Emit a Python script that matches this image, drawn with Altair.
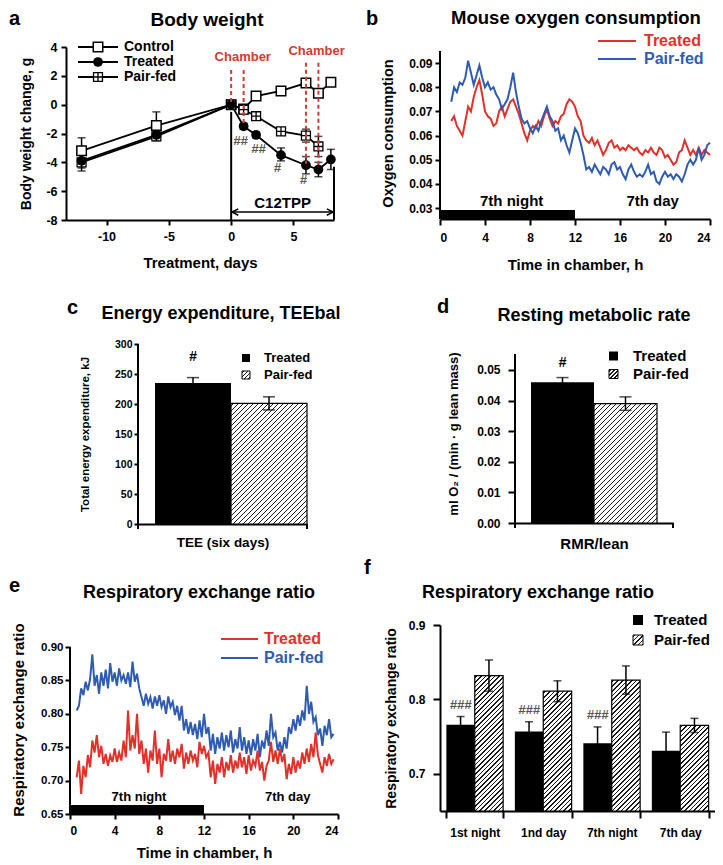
import altair as alt
import pandas as pd

FONT = "Liberation Sans"
RED = "#e0312a"
BLUE = "#2f5cb2"
CH_RED = "#d23b30"
GREY = "#555555"
MINUS_FIX = "replace(datum.label, '\u2212', '-')"

# ---------------- panel a : body weight ----------------
a_days = [-12, -6, 0, 1, 2, 4, 6, 7, 8]
a_control = [-3.2, -1.45, 0.0, -0.3, 0.6, 0.95, 1.5, 0.8, 1.55]
a_control_lo = [-3.2, -1.45, 0.0, -0.3, 0.6, 0.95, 1.5, 0.8, 1.55]
a_control_hi = [-2.3, -0.5, 0.0, -0.3, 0.6, 0.95, 1.5, 0.8, 1.55]
a_treated = [-3.9, -2.1, 0.0, -1.5, -2.1, -3.5, -4.2, -4.5, -3.8]
a_treated_lo = [-4.4, -2.4, 0.0, -1.7, -2.3, -3.9, -4.8, -5.0, -4.5]
a_treated_hi = [-3.9, -2.1, 0.0, -1.3, -1.9, -3.0, -3.6, -4.0, -3.1]
a_pf_days = [-12, -6, 0, 1, 2, 4, 6, 7]
a_pairfed = [-4.0, -2.2, 0.0, -0.35, -0.8, -1.85, -2.15, -2.9]
a_pairfed_lo = [-4.6, -2.5, 0.0, -0.5, -1.0, -2.1, -2.6, -3.6]
a_pairfed_hi = [-4.0, -2.2, 0.0, -0.2, -0.6, -1.6, -1.7, -2.2]
a_sig_days = [0.75, 2.2, 3.7, 5.8]
a_sig_vals = [-2.5, -3.1, -4.4, -5.2]
a_sig_text = ["##", "##", "#", "#"]
a_chamber_days = [0, 1, 6, 7]
a_chamber_top = [2.4, 2.4, 2.9, 2.9]
a_chamber_bottom = [0.0, -1.4, -4.1, -4.4]
a_chamber_label_days = [0.93, 6.85]
a_chamber_label_vals = [3.3, 3.7]
a_tpp_start, a_tpp_end = 0.0, 8.25
a_tpp_tops = [-0.5, -4.3]

# ---------------- panel b : oxygen consumption ----------------
b_start, b_step = 1.0, 0.25
b_treated = [0.066, 0.068, 0.064, 0.062, 0.060, 0.066, 0.072, 0.070, 0.076, 0.080,
             0.083, 0.077, 0.070, 0.068, 0.067, 0.064, 0.065, 0.070, 0.072, 0.068,
             0.071, 0.074, 0.075, 0.072, 0.069, 0.065, 0.061, 0.058, 0.062, 0.064,
             0.063, 0.066, 0.064, 0.068, 0.071, 0.067, 0.064, 0.066, 0.065, 0.068,
             0.069, 0.073, 0.075, 0.074, 0.072, 0.068, 0.066, 0.060, 0.058, 0.057,
             0.059, 0.056, 0.058, 0.055, 0.052, 0.054, 0.057, 0.058, 0.055, 0.056,
             0.054, 0.055, 0.054, 0.056, 0.055, 0.054, 0.055, 0.053, 0.052, 0.054,
             0.053, 0.055, 0.053, 0.052, 0.055, 0.054, 0.051, 0.052, 0.050, 0.048,
             0.049, 0.053, 0.054, 0.058, 0.055, 0.052, 0.054, 0.052, 0.055, 0.052,
             0.054, 0.053, 0.052]
b_pairfed = [0.074, 0.080, 0.078, 0.082, 0.081, 0.084, 0.091, 0.086, 0.081, 0.085,
             0.089, 0.084, 0.080, 0.082, 0.079, 0.080, 0.077, 0.075, 0.071, 0.073,
             0.075, 0.080, 0.086, 0.078, 0.072, 0.067, 0.065, 0.066, 0.063, 0.061,
             0.064, 0.062, 0.066, 0.069, 0.072, 0.068, 0.066, 0.062, 0.063, 0.058,
             0.060, 0.056, 0.053, 0.058, 0.063, 0.061, 0.057, 0.052, 0.046, 0.047,
             0.045, 0.048, 0.046, 0.044, 0.047, 0.046, 0.044, 0.048, 0.049, 0.046,
             0.047, 0.044, 0.042, 0.046, 0.048, 0.045, 0.043, 0.044, 0.043, 0.045,
             0.048, 0.044, 0.045, 0.041, 0.040, 0.043, 0.045, 0.043, 0.044, 0.042,
             0.044, 0.043, 0.041, 0.044, 0.048, 0.050, 0.048, 0.050, 0.055, 0.050,
             0.052, 0.056, 0.057]
night_start, night_end = 0, 12
b_label_x = [6.37, 18.9]
labels_daynight = ["7th night", "7th day"]

# ---------------- panel c / d : bars ----------------
groups = ["Treated", "Pair-fed"]
c_vals = [235, 201]
c_err = [9, 11]
d_vals = [0.046, 0.039]
d_err = [0.0015, 0.0022]

# ---------------- panel e : RER trace ----------------
e_start, e_step = 0.6, 0.2
e_pairfed = [0.805, 0.812, 0.838, 0.828, 0.848, 0.835, 0.852, 0.889, 0.842, 0.858,
             0.830, 0.862, 0.842, 0.866, 0.838, 0.876, 0.848, 0.862, 0.842, 0.868,
             0.850, 0.858, 0.845, 0.862, 0.840, 0.878, 0.848, 0.860, 0.838, 0.825,
             0.812, 0.830, 0.815, 0.825, 0.808, 0.826, 0.812, 0.828, 0.810, 0.820,
             0.800, 0.826, 0.810, 0.818, 0.798, 0.812, 0.790, 0.812, 0.775, 0.792,
             0.770, 0.788, 0.768, 0.785, 0.762, 0.790, 0.765, 0.800, 0.770, 0.780,
             0.745, 0.770, 0.740, 0.765, 0.748, 0.772, 0.745, 0.768, 0.750, 0.775,
             0.742, 0.762, 0.748, 0.780, 0.745, 0.765, 0.740, 0.760, 0.738, 0.762,
             0.745, 0.770, 0.735, 0.760, 0.748, 0.775, 0.752, 0.800, 0.765, 0.772,
             0.745, 0.758, 0.742, 0.765, 0.748, 0.780, 0.770, 0.792, 0.775, 0.798,
             0.782, 0.805, 0.790, 0.842, 0.800, 0.818, 0.788, 0.795, 0.768, 0.778,
             0.752, 0.782, 0.768, 0.792, 0.765, 0.770]
e_treated = [0.705, 0.730, 0.680, 0.722, 0.705, 0.738, 0.720, 0.760, 0.742, 0.768,
             0.735, 0.752, 0.725, 0.740, 0.722, 0.738, 0.728, 0.748, 0.728, 0.742,
             0.730, 0.760, 0.735, 0.805, 0.745, 0.768, 0.748, 0.800, 0.740, 0.760,
             0.725, 0.748, 0.712, 0.745, 0.730, 0.775, 0.725, 0.748, 0.705, 0.740,
             0.730, 0.762, 0.728, 0.745, 0.725, 0.748, 0.735, 0.755, 0.718, 0.742,
             0.725, 0.745, 0.730, 0.740, 0.720, 0.758, 0.740, 0.752, 0.735, 0.742,
             0.705, 0.730, 0.695, 0.725, 0.712, 0.735, 0.705, 0.728, 0.715, 0.738,
             0.712, 0.730, 0.718, 0.742, 0.720, 0.735, 0.710, 0.738, 0.715, 0.730,
             0.722, 0.745, 0.715, 0.728, 0.700, 0.722, 0.730, 0.758, 0.728, 0.745,
             0.725, 0.748, 0.728, 0.740, 0.702, 0.725, 0.710, 0.735, 0.712, 0.730,
             0.718, 0.742, 0.725, 0.748, 0.728, 0.755, 0.735, 0.772, 0.738, 0.725,
             0.712, 0.735, 0.722, 0.740, 0.725, 0.732]
e_label_x = [6.18, 19.5]

# ---------------- panel f : RER bars ----------------
f_periods = ["1st night", "1nd day", "7th night", "7th day"]
f_treated = [0.766, 0.757, 0.741, 0.731]
f_treated_err = [0.011, 0.013, 0.022, 0.025]
f_pairfed = [0.832, 0.811, 0.826, 0.765]
f_pairfed_err = [0.021, 0.014, 0.019, 0.0095]
f_sig = ["###", "###", "###", ""]


# ---------------- helpers ----------------
def one():
    return pd.DataFrame({"s": [0]})


def txt(text, x, y, size, color="black", align="center", baseline="middle", italic=False):
    return alt.Chart(pd.DataFrame({"t": [text]})).mark_text(
        font=FONT, fontSize=size, fontWeight="bold", color=color, align=align,
        baseline=baseline, fontStyle="italic" if italic else "normal"
    ).encode(x=alt.value(x), y=alt.value(y), text="t:N")


def spacer(w, h):
    return alt.Chart(one()).mark_point(opacity=0, size=1).encode(
        x=alt.value(0), y=alt.value(0)).properties(width=w, height=h)


def rect_px(x, y, w, h, fill, stroke=None):
    kw = dict(fill=fill)
    if stroke:
        kw.update(stroke=stroke, strokeWidth=1)
    return alt.Chart(one()).mark_rect(**kw).encode(
        x=alt.value(x), x2=alt.value(x + w), y=alt.value(y), y2=alt.value(y + h))


def rule_px(x, x2, y, y2, color="black", width=2):
    return alt.Chart(one()).mark_rule(color=color, strokeWidth=width).encode(
        x=alt.value(x), x2=alt.value(x2), y=alt.value(y), y2=alt.value(y2))


def hatch(w, h, period=5.0, lw=1.6, color="#1a1a1a"):
    """diagonal '/' stripes, period given horizontally in pixels"""
    total = w + h
    L = (w * w + h * h) / total
    stops = [alt.GradientStop(offset=0, color="white")]
    pos = period / 2.0
    while pos - lw / 2 < total:
        a = round(max(0.0, (pos - lw / 2) / total), 5)
        b = round(min(1.0, (pos + lw / 2) / total), 5)
        stops += [alt.GradientStop(offset=a, color="white"),
                  alt.GradientStop(offset=a, color=color),
                  alt.GradientStop(offset=b, color=color),
                  alt.GradientStop(offset=b, color="white")]
        pos += period
    stops.append(alt.GradientStop(offset=1, color="white"))
    return alt.LinearGradient(gradient="linear", stops=stops, x1=0, y1=0,
                              x2=round(w / L, 5), y2=round(h / L, 5))


PF_SHAPE = "M-1,-1H1V1H-1Z M0,-1V1 M-1,0H1"

# ================= panel a =================
A_W, A_H = 268, 173
a_xs = alt.Scale(domain=[-13.25, 8.25], nice=False, zero=False)
a_ys = alt.Scale(domain=[-8, 4], nice=False, zero=False)
a_xaxis = alt.Axis(title="Treatment, days", values=[-10, -5, 0, 5], titleFontSize=15,
                   labelFontSize=12.5, tickSize=5, labelPadding=5, titlePadding=13, labelExpr=MINUS_FIX)
a_yaxis = alt.Axis(title="Body weight change, g", values=[-8, -6, -4, -2, 0, 2, 4],
                   titleFontSize=14, labelFontSize=12.5, tickSize=5, labelPadding=4,
                   titlePadding=12, labelExpr=MINUS_FIX)


def AX(f):
    return alt.X(f, type="quantitative", scale=a_xs, axis=a_xaxis)


def AY(f):
    return alt.Y(f, type="quantitative", scale=a_ys, axis=a_yaxis)


rows = []
for name, days, v, lo, hi in [("Control", a_days, a_control, a_control_lo, a_control_hi),
                              ("Treated", a_days, a_treated, a_treated_lo, a_treated_hi),
                              ("Pair-fed", a_pf_days, a_pairfed, a_pairfed_lo, a_pairfed_hi)]:
    for d, vv, l, h in zip(days, v, lo, hi):
        rows.append(dict(series=name, day=d, val=vv, lo=l, hi=h))
df_a = pd.DataFrame(rows)
base_a = alt.Chart(df_a)

a_layers = [
    base_a.transform_filter("datum.hi != datum.lo").mark_rule(color="black", strokeWidth=1.5)
    .encode(x=AX("day"), y=AY("lo"), y2="hi"),
    base_a.transform_filter("datum.lo < datum.val").mark_tick(orient="horizontal", size=8, thickness=1.5, color="black")
    .encode(x=AX("day"), y=AY("lo")),
    base_a.transform_filter("datum.hi > datum.val").mark_tick(orient="horizontal", size=8, thickness=1.5, color="black")
    .encode(x=AX("day"), y=AY("hi")),
    base_a.mark_line(color="black", strokeWidth=1.8).encode(x=AX("day"), y=AY("val"), detail="series:N"),
    base_a.transform_filter("datum.series == 'Control'").mark_point(
        shape="square", filled=True, fill="white", stroke="black", strokeWidth=1.5, size=90, opacity=1)
    .encode(x=AX("day"), y=AY("val")),
    base_a.transform_filter("datum.series == 'Pair-fed'").mark_point(
        shape=PF_SHAPE, filled=True, fill="white", stroke="black", strokeWidth=1.3, size=80, opacity=1)
    .encode(x=AX("day"), y=AY("val")),
    base_a.transform_filter("datum.series == 'Treated'").mark_point(
        shape="circle", filled=True, color="black", size=95, opacity=1)
    .encode(x=AX("day"), y=AY("val")),
]
df_ch = pd.DataFrame({"day": a_chamber_days, "top": a_chamber_top, "bottom": a_chamber_bottom})
a_layers.append(alt.Chart(df_ch).mark_rule(color=CH_RED, strokeWidth=2, strokeDash=[4, 3])
                .encode(x=AX("day"), y=AY("top"), y2="bottom"))
df_chl = pd.DataFrame({"day": a_chamber_label_days, "val": a_chamber_label_vals, "t": ["Chamber"] * 2})
a_layers.append(alt.Chart(df_chl).mark_text(font=FONT, fontSize=13, fontWeight="bold", color=CH_RED)
                .encode(x=AX("day"), y=AY("val"), text="t:N"))
df_sig = pd.DataFrame({"day": a_sig_days, "val": a_sig_vals, "t": a_sig_text})
a_layers.append(alt.Chart(df_sig).mark_text(font=FONT, fontSize=13, fontWeight="bold",
                                            fontStyle="italic", color=GREY)
                .encode(x=AX("day"), y=AY("val"), text="t:N"))
df_tpp = pd.DataFrame({"day": [a_tpp_start, a_tpp_end], "top": a_tpp_tops, "bottom": [-8, -8]})
a_layers.append(alt.Chart(df_tpp).mark_rule(color="black", strokeWidth=2)
                .encode(x=AX("day"), y=AY("top"), y2="bottom"))
df_arrow = pd.DataFrame({"s": [a_tpp_start], "e": [a_tpp_end], "y": [-7.45],
                         "mid": [(a_tpp_start + a_tpp_end) / 2], "ty": [-6.8]})
a_layers += [
    alt.Chart(df_arrow).mark_rule(color="black", strokeWidth=1.5).encode(x=AX("s"), x2="e", y=AY("y")),
    alt.Chart(df_arrow).mark_point(shape="M1,-1L-1,0L1,1", filled=False, stroke="black",
                                   strokeWidth=1.5, size=40, xOffset=4, opacity=1)
    .encode(x=AX("s"), y=AY("y")),
    alt.Chart(df_arrow).mark_point(shape="M-1,-1L1,0L-1,1", filled=False, stroke="black",
                                   strokeWidth=1.5, size=40, xOffset=-4, opacity=1)
    .encode(x=AX("e"), y=AY("y")),
    alt.Chart(df_arrow).mark_text(font=FONT, fontSize=15, fontWeight="bold", text="C12TPP")
    .encode(x=AX("mid"), y=AY("ty")),
]
leg_a = [("Control", dict(shape="square", filled=True, fill="white", stroke="black", strokeWidth=1.5, size=90)),
         ("Treated", dict(shape="circle", filled=True, color="black", size=95)),
         ("Pair-fed", dict(shape=PF_SHAPE, filled=True, fill="white", stroke="black", strokeWidth=1.3, size=80))]
for i, (name, props) in enumerate(leg_a):
    y = 15 * i
    a_layers.append(rule_px(12, 52, y, y, width=1.8))
    a_layers.append(alt.Chart(one()).mark_point(opacity=1, **props).encode(x=alt.value(32), y=alt.value(y)))
    a_layers.append(txt(name, 58, y, 14, align="left"))
a_layers.append(txt("Body weight", 141, -27, 19))
a_layers.append(txt("a", -57, -38, 20, align="left", baseline="top"))
panel_a = alt.layer(*a_layers).properties(width=A_W, height=A_H)

# ================= panel b =================
B_OFF = 4                     # axis line starts 4 px below the row top
B_W, B_H = 270, 172
B_YMIN, B_YAX = 0.0255, 0.095
B_YMAX = B_YMIN + (B_YAX - B_YMIN) * B_H / (B_H - B_OFF)
b_xs = alt.Scale(domain=[0, 24], nice=False)
b_ys = alt.Scale(domain=[B_YMIN, B_YMAX], nice=False, zero=False)
b_xaxis = alt.Axis(title="Time in chamber, h", values=[0, 4, 8, 12, 16, 20, 24], titleFontSize=15,
                   labelFontSize=12, tickSize=6, labelPadding=7, titlePadding=14)
b_yaxis = alt.Axis(title="Oxygen consumption", values=[0.03, 0.04, 0.05, 0.06, 0.07, 0.08, 0.09],
                   format=".2f", titleFontSize=14.5, labelFontSize=12, tickSize=5, labelPadding=3,
                   titlePadding=13, domain=False)


def BX(f):
    return alt.X(f, type="quantitative", scale=b_xs, axis=b_xaxis)


def BY(f):
    return alt.Y(f, type="quantitative", scale=b_ys, axis=b_yaxis)


df_b = pd.concat([
    pd.DataFrame({"t": [b_start + b_step * i for i in range(len(b_treated))], "val": b_treated, "series": "Treated"}),
    pd.DataFrame({"t": [b_start + b_step * i for i in range(len(b_pairfed))], "val": b_pairfed, "series": "Pair-fed"}),
])
b_layers = [
    alt.Chart(df_b).transform_filter("datum.series == 'Treated'").mark_line(color=RED, strokeWidth=2)
    .encode(x=BX("t"), y=BY("val")),
    alt.Chart(df_b).transform_filter("datum.series == 'Pair-fed'").mark_line(color=BLUE, strokeWidth=2)
    .encode(x=BX("t"), y=BY("val")),
    alt.Chart(pd.DataFrame({"s": [night_start], "e": [night_end]})).mark_rect(color="black")
    .encode(x=BX("s"), x2="e", y=alt.value(B_H - 9), y2=alt.value(B_H)),
    alt.Chart(pd.DataFrame({"x": b_label_x, "t": labels_daynight})).mark_text(
        font=FONT, fontSize=15, fontWeight="bold").encode(x=BX("x"), y=alt.value(B_H - 18), text="t:N"),
    rule_px(0, 0, B_OFF, B_H),
]
for i, (name, col) in enumerate([("Treated", RED), ("Pair-fed", BLUE)]):
    y = B_OFF - 10 + 18 * i
    b_layers.append(rule_px(158, 196, y, y, color=col, width=2))
    b_layers.append(txt(name, 204, y, 16, color=col, align="left"))
b_layers.append(txt("Mouse oxygen consumption", 136, B_OFF - 33, 18.5))
b_layers.append(txt("b", -74, -38, 20, align="left", baseline="top"))
panel_b = alt.layer(*b_layers).properties(width=B_W, height=B_H)


# ================= bar panel builder (c, d) =================
def bar_panel(SH, W, H, off, vals, errs, yax_max, yvalues, yfmt, ytitle, ytsize, ylsize, ytpad, ylpad, ytick,
              xtitle, xtsize, xtpad, pad_outer, align, sig_dy, leg, title, title_pos, letter_pos):
    """SH: horizontal shift of the plot inside its grid cell; off: top offset of the axis line"""
    ymax = yax_max * H / (H - off)
    xs = alt.Scale(domain=groups, range=[SH, SH + W], paddingInner=0, paddingOuter=pad_outer, align=align)
    ys = alt.Scale(domain=[0, ymax], nice=False)
    xaxis = alt.Axis(title=xtitle, labels=False, ticks=False, titleFontSize=xtsize, titlePadding=xtpad)
    yk = dict(title=ytitle, values=yvalues, titleFontSize=ytsize, labelFontSize=ylsize,
              titlePadding=ytpad, labelPadding=ylpad, tickSize=ytick, domain=False, offset=-SH)
    if yfmt:
        yk["format"] = yfmt
    yaxis = alt.Axis(**yk)
    X = alt.X("group:N", scale=xs, axis=xaxis)

    def Y(f):
        return alt.Y(f, type="quantitative", scale=ys, axis=yaxis)

    df = pd.DataFrame({"group": groups, "val": vals, "err": errs})
    df["lo"] = df["val"] - df["err"]
    df["hi"] = df["val"] + df["err"]
    base = alt.Chart(df)
    step = W / (2 + 2 * pad_outer)
    h_pf = vals[1] / ymax * H
    layers = [
        base.transform_filter("datum.group == 'Treated'").mark_bar(color="black").encode(x=X, y=Y("val")),
        base.transform_filter("datum.group == 'Pair-fed'").mark_bar(
            fill=hatch(step, h_pf, 5.0), stroke="black", strokeWidth=1.2).encode(x=X, y=Y("val")),
        base.mark_rule(color="black", strokeWidth=1.5).encode(x=X, y=Y("lo"), y2="hi"),
        base.mark_tick(orient="horizontal", size=12, thickness=1.5, color="black").encode(x=X, y=Y("hi")),
        base.transform_filter("datum.group == 'Pair-fed'").mark_tick(
            orient="horizontal", size=12, thickness=1.5, color="black").encode(x=X, y=Y("lo")),
        base.transform_filter("datum.group == 'Treated'").mark_text(
            font=FONT, fontSize=14, fontWeight="bold", fontStyle="italic", text="#", dy=sig_dy)
        .encode(x=X, y=Y("hi")),
        rule_px(SH, SH, off, H + 5), rule_px(SH + W, SH + W, H, H + 5),
    ]
    lx, ly1, ly2, sq, tx, fs = leg
    layers += [
        rect_px(SH + lx, off + ly1 - sq / 2, sq, sq, "black"),
        rect_px(SH + lx, off + ly2 - sq / 2, sq, sq, hatch(sq, sq, 4.0, 1.3), stroke="black"),
        txt("Treated", SH + tx, off + ly1, fs, align="left"),
        txt("Pair-fed", SH + tx, off + ly2, fs, align="left"),
        txt(title, SH + title_pos[0], off + title_pos[1], 18),
        txt(letter_pos[2], SH + letter_pos[0], off + letter_pos[1], 20, align="left"),
    ]
    return alt.layer(*layers).properties(width=SH + W, height=H)


C_SH, C_W, C_H = 72, 169, 180
panel_c = bar_panel(C_SH, C_W, C_H, 0, c_vals, c_err, 300, [0, 50, 100, 150, 200, 250, 300], None,
                    "Total energy expenditure, kJ", 11.5, 10.5, 24, 2, 4,
                    "TEE (six days)", 13.5, 11, 17 / 152, 1, -21,
                    (104, 14, 31, 8, 126, 13), "Energy expenditure, TEEbal", (83, -30), (-71, -36, "c"))

D_SH, D_OFF = 75, 10
D_W, D_H = 158, 179
panel_d = bar_panel(D_SH, D_W, D_H, D_OFF, d_vals, d_err, 0.0552, [0, 0.01, 0.02, 0.03, 0.04, 0.05], ".2f",
                    "ml O\u2082 / (min \u00b7 g lean mass)", 13, 12, 16, 8, 7,
                    "RMR/lean", 15, 13, 16 / 63, 0.5, -15,
                    (94, 2, 20, 9, 118, 15), "Resting metabolic rate", (79, -38), (-78, -47, "d"))

# ================= panel e =================
E_SH, E_OFF = 4, 22
E_W, E_H = 268, 189
E_YMAX = 0.65 + 0.25 * E_H / (E_H - E_OFF)
e_xs = alt.Scale(domain=[0, 24], nice=False, range=[E_SH, E_SH + E_W])
e_ys = alt.Scale(domain=[0.65, E_YMAX], nice=False, zero=False)
e_xaxis = alt.Axis(title="Time in chamber, h", values=[0, 4, 8, 12, 16, 20, 24], titleFontSize=15,
                   labelFontSize=12, tickSize=5, labelPadding=6, titlePadding=9)
e_yaxis = alt.Axis(title="Respiratory exchange ratio", values=[0.65, 0.70, 0.75, 0.80, 0.85, 0.90],
                   format=".2f", titleFontSize=15, labelFontSize=11.5, tickSize=5, labelPadding=2,
                   titlePadding=14, domain=False, offset=-E_SH)


def EX(f):
    return alt.X(f, type="quantitative", scale=e_xs, axis=e_xaxis)


def EY(f):
    return alt.Y(f, type="quantitative", scale=e_ys, axis=e_yaxis)


df_e = pd.concat([
    pd.DataFrame({"t": [e_start + e_step * i for i in range(len(e_treated))], "val": e_treated, "series": "Treated"}),
    pd.DataFrame({"t": [e_start + e_step * i for i in range(len(e_pairfed))], "val": e_pairfed, "series": "Pair-fed"}),
])
e_layers = [
    alt.Chart(df_e).transform_filter("datum.series == 'Pair-fed'").mark_line(color=BLUE, strokeWidth=2)
    .encode(x=EX("t"), y=EY("val")),
    alt.Chart(df_e).transform_filter("datum.series == 'Treated'").mark_line(color=RED, strokeWidth=2)
    .encode(x=EX("t"), y=EY("val")),
    alt.Chart(pd.DataFrame({"s": [night_start], "e": [night_end]})).mark_rect(color="black")
    .encode(x=EX("s"), x2="e", y=alt.value(E_H - 9), y2=alt.value(E_H)),
    alt.Chart(pd.DataFrame({"x": e_label_x, "t": labels_daynight})).mark_text(
        font=FONT, fontSize=13, fontWeight="bold").encode(x=EX("x"), y=alt.value(E_H - 17), text="t:N"),
    rule_px(E_SH, E_SH, E_OFF, E_H),
]
for i, (name, col) in enumerate([("Treated", RED), ("Pair-fed", BLUE)]):
    y = E_OFF - 8 + 19 * i
    e_layers.append(rule_px(E_SH + 151, E_SH + 188, y, y, color=col, width=2))
    e_layers.append(txt(name, E_SH + 194, y, 16, color=col, align="left"))
e_layers.append(txt("Respiratory exchange ratio", E_SH + 129, E_OFF - 54, 18))
e_layers.append(txt("e", E_SH - 61, E_OFF - 61, 20, align="left"))
panel_e = alt.layer(*e_layers).properties(width=E_SH + E_W, height=E_H)

# ================= panel f =================
F_W, F_H = 275, 186
F_PI, F_PO = 0.171, 0.093
f_xs = alt.Scale(domain=f_periods, paddingInner=F_PI, paddingOuter=F_PO)
f_xo = alt.Scale(domain=groups, paddingInner=0, paddingOuter=0)
f_ys = alt.Scale(domain=[0.65, 0.90], nice=False, zero=False)
f_xaxis = alt.Axis(title=None, tickBand="extent", labelFontSize=12, tickSize=7, labelPadding=9,
                   labelAngle=0)
f_yaxis = alt.Axis(title="Respiratory exchange ratio", values=[0.7, 0.8, 0.9], format=".1f",
                   titleFontSize=14, labelFontSize=12, tickSize=7, labelPadding=8, titlePadding=10)
FX = alt.X("period:N", scale=f_xs, axis=f_xaxis)
FXO = alt.XOffset("series:N", scale=f_xo)


def FY(f):
    return alt.Y(f, type="quantitative", scale=f_ys, axis=f_yaxis)


df_f = pd.concat([
    pd.DataFrame({"period": f_periods, "series": "Treated", "val": f_treated, "err": f_treated_err, "sig": f_sig}),
    pd.DataFrame({"period": f_periods, "series": "Pair-fed", "val": f_pairfed, "err": f_pairfed_err, "sig": ""}),
])
df_f["lo"] = df_f["val"] - df_f["err"]
df_f["hi"] = df_f["val"] + df_f["err"]
f_step = F_W / (len(f_periods) - F_PI + 2 * F_PO)
f_half = f_step * (1 - F_PI) / 2
base_f = alt.Chart(df_f)
f_layers = [
    base_f.transform_filter("datum.series == 'Treated'").mark_bar(color="black")
    .encode(x=FX, xOffset=FXO, y=FY("val"), y2=alt.datum(0.65)),
]
for p, v in zip(f_periods, f_pairfed):
    h = (v - 0.65) / 0.25 * F_H
    f_layers.append(
        base_f.transform_filter(f"datum.series == 'Pair-fed' && datum.period == '{p}'")
        .mark_bar(fill=hatch(f_half, h, 4.6), stroke="black", strokeWidth=1.2)
        .encode(x=FX, xOffset=FXO, y=FY("val"), y2=alt.datum(0.65)))
f_layers += [
    base_f.mark_rule(color="black", strokeWidth=1.5).encode(x=FX, xOffset=FXO, y=FY("lo"), y2="hi"),
    base_f.mark_tick(orient="horizontal", size=8, thickness=1.5, color="black")
    .encode(x=FX, xOffset=FXO, y=FY("hi")),
    base_f.transform_filter("datum.series == 'Pair-fed'").mark_tick(
        orient="horizontal", size=8, thickness=1.5, color="black").encode(x=FX, xOffset=FXO, y=FY("lo")),
    base_f.transform_filter("datum.series == 'Treated'").mark_text(
        font=FONT, fontSize=13, fontWeight="bold", fontStyle="italic", color=GREY, dy=-12)
    .encode(x=FX, xOffset=FXO, y=FY("hi"), text="sig:N"),
    rect_px(193, -10, 10, 10, "black"),
    rect_px(193, 10, 10, 10, hatch(10, 10, 4.2, 1.3), stroke="black"),
    txt("Treated", 214, -5, 15, align="left"),
    txt("Pair-fed", 214, 15, 15, align="left"),
    txt("Respiratory exchange ratio", 98, -32, 18),
    txt("f", -76, -57, 20, align="left"),
]
panel_f = alt.layer(*f_layers).properties(width=F_W, height=F_H)

# ================= layout : flat grid, columns shared by all rows =================
cells = [
    spacer(57, 38), spacer(1, 1), spacer(102, 1), spacer(1, 1),
    spacer(57, 1), panel_a, spacer(102, 1), panel_b,
    spacer(57, 124), spacer(1, 1), spacer(102, 1), spacer(1, 1),
    spacer(57, 1), panel_c, spacer(102, 1), panel_d,
    spacer(57, 101), spacer(1, 1), spacer(102, 1), spacer(1, 1),
    spacer(57, 1), panel_e, spacer(102, 1), panel_f,
]
chart = alt.concat(*cells, columns=4, spacing=0, bounds="flush", align="each").properties(padding=0)
chart = chart.configure_axis(
    domainColor="black", domainWidth=2, tickColor="black", tickWidth=2,
    labelFont=FONT, labelFontWeight="bold", labelColor="black",
    titleFont=FONT, titleFontWeight="bold", titleColor="black", grid=False,
).configure_view(stroke=None)

chart.save("out.html", embed_options={"renderer": "svg", "actions": False})
